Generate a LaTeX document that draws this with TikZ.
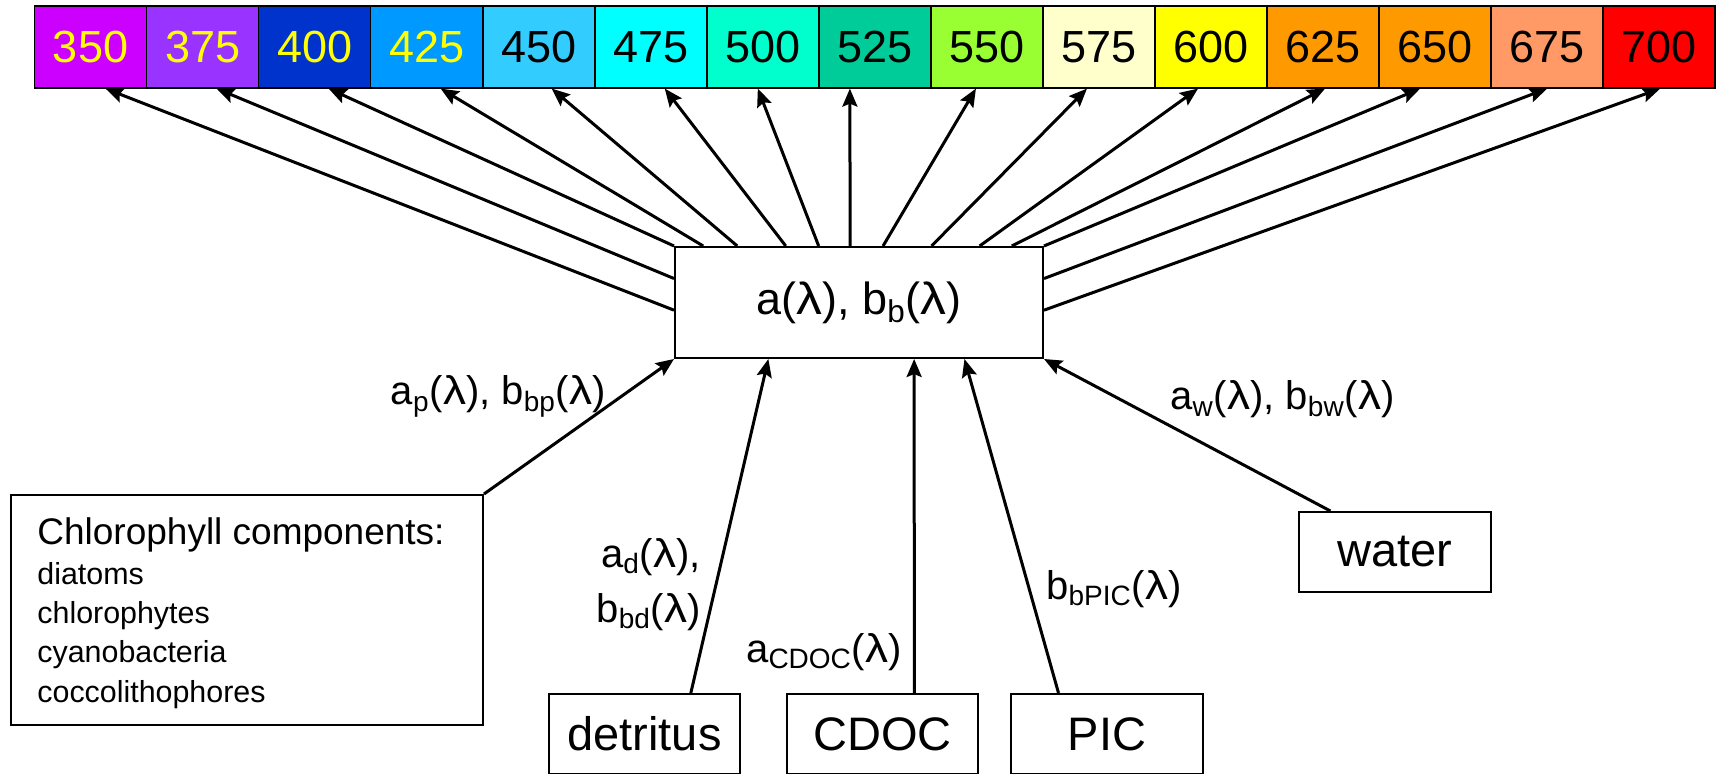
\documentclass[tikz,border=0pt]{standalone}
\usepackage{fontspec}
\usepackage{graphicx}
\setmainfont{Liberation Sans}
\usetikzlibrary{arrows.meta,calc}

\definecolor{c350}{HTML}{CC00FF}
\definecolor{c375}{HTML}{9933FF}
\definecolor{c400}{HTML}{0033CC}
\definecolor{c425}{HTML}{0099FF}
\definecolor{c450}{HTML}{33CCFF}
\definecolor{c475}{HTML}{00FFFF}
\definecolor{c500}{HTML}{00FFCC}
\definecolor{c525}{HTML}{00CC99}
\definecolor{c550}{HTML}{99FF33}
\definecolor{c575}{HTML}{FFFFCC}
\definecolor{c600}{HTML}{FFFF00}
\definecolor{c625}{HTML}{FF9900}
\definecolor{c650}{HTML}{FF9900}
\definecolor{c675}{HTML}{FF9966}
\definecolor{c700}{HTML}{FF0000}
\definecolor{numyellow}{HTML}{FFFF00}

\newcommand\sbx[1]{\textsubscript{#1}}
\newcommand\lam{\scalebox{1.15}[1]{λ}}

\begin{document}
\begin{tikzpicture}[x=0.5pt,y=-0.5pt,
  cell/.style={draw=black, line width=0.8pt, minimum width=56.02pt,
    minimum height=40.75pt, inner sep=0pt, anchor=north west,
    font=\fontsize{22.5}{26}\selectfont},
  srcbox/.style={draw=black, line width=1pt, inner sep=0pt, anchor=north west,
    minimum height=40pt, font=\fontsize{23.5}{27}\selectfont},
  lbl/.style={inner sep=0pt, font=\fontsize{20}{27.5}\selectfont},
  arr/.style={line width=1.5pt, -{Stealth[length=9pt,width=7.5pt,inset=1.5pt]}}
]
\useasboundingbox (0,0) rectangle (1717,774);

% wavelength bar
\foreach \w/\tc [count=\i from 0] in {350/numyellow,375/numyellow,400/numyellow,
    425/numyellow,450/black,475/black,500/black,525/black,550/black,575/black,
    600/black,625/black,650/black,675/black,700/black}
  \node[cell, fill=c\w, text=\tc] (c\w) at ({33.7+112.05*\i}, 5.5) {\w};

% central box
\node[draw=black, line width=1pt, anchor=north west, inner sep=0pt,
  minimum width=184pt, minimum height=55.5pt,
  font=\fontsize{22.5}{25}\selectfont] (ab) at (674,246)
  {a(\lam), b\sbx{b}(\lam)};

% source boxes
\node[draw=black, line width=1pt, anchor=north west,
  minimum width=236pt, minimum height=115pt] (chl) at (10,494) {};
\node[anchor=base west, inner sep=0pt, align=left,
  font=\fontsize{15.2}{19.6}\selectfont] (chltxt) at (37,702)
  {{\fontsize{18.5}{19.6}\selectfont Chlorophyll components:}\\[0.3pt]
   diatoms\\ chlorophytes\\ cyanobacteria\\ coccolithophores};
\node[srcbox, minimum width=95.5pt] (det) at (548,693) {detritus};
\node[srcbox, minimum width=95.5pt] (cdoc) at (786,693) {CDOC};
\node[srcbox, minimum width=96pt] (pic) at (1010,693) {PIC};
\node[srcbox, minimum width=96pt] (wat) at (1298,511) {water};

% arrows into the central box
\draw[arr] (chl.north east) -- (ab.south west);
\draw[arr] ($(det.north west)!0.74!(det.north east)$) -- ($(ab.south west)!0.255!(ab.south east)$);
\draw[arr] ($(cdoc.north west)!0.665!(cdoc.north east)$) -- ($(ab.south west)!0.649!(ab.south east)$);
\draw[arr] ($(pic.north west)!0.25!(pic.north east)$) -- ($(ab.south west)!0.785!(ab.south east)$);
\draw[arr] ($(wat.north west)!0.167!(wat.north east)$) -- (ab.south east);

% arrow labels
\node[lbl, anchor=base east] (lp) at (606,405) {a\sbx{p}(\lam), b\sbx{bp}(\lam)};
\node[lbl, anchor=base east, align=right] (ld) at (701,622) {a\sbx{d}(\lam),\\ b\sbx{bd}(\lam)};
\node[lbl, anchor=base east] (lc) at (902,662) {a\sbx{CDOC}(\lam)};
\node[lbl, anchor=base west] (lpic) at (1046,599) {b\sbx{bPIC}(\lam)};
\node[lbl, anchor=base west] (lw) at (1170,410) {a\sbx{w}(\lam), b\sbx{bw}(\lam)};

% start points of the arrows to the wavelength bar
\coordinate (s350) at ($(ab.north west)!0.568!(ab.south west)$);
\coordinate (s375) at ($(ab.north west)!0.288!(ab.south west)$);
\coordinate (s400) at (ab.north west);
\coordinate (s425) at ($(ab.north west)!0.079!(ab.north east)$);
\coordinate (s450) at ($(ab.north west)!0.171!(ab.north east)$);
\coordinate (s475) at ($(ab.north west)!0.302!(ab.north east)$);
\coordinate (s500) at ($(ab.north west)!0.391!(ab.north east)$);
\coordinate (s525) at ($(ab.north west)!0.476!(ab.north east)$);
\coordinate (s550) at ($(ab.north west)!0.565!(ab.north east)$);
\coordinate (s575) at ($(ab.north west)!0.696!(ab.north east)$);
\coordinate (s600) at ($(ab.north west)!0.826!(ab.north east)$);
\coordinate (s625) at ($(ab.north west)!0.913!(ab.north east)$);
\coordinate (s650) at (ab.north east);
\coordinate (s675) at ($(ab.north east)!0.288!(ab.south east)$);
\coordinate (s700) at ($(ab.north east)!0.568!(ab.south east)$);

\foreach \w/\dx in {350/15,375/14,400/14,425/14,450/13,475/14,500/-5,525/-25,
    550/-11,575/-12,600/-13,625/2,650/-15,675/0,700/1}
  \draw[arr] (s\w) -- ([xshift=\dx*0.5pt]c\w.south);
\end{tikzpicture}
\end{document}
